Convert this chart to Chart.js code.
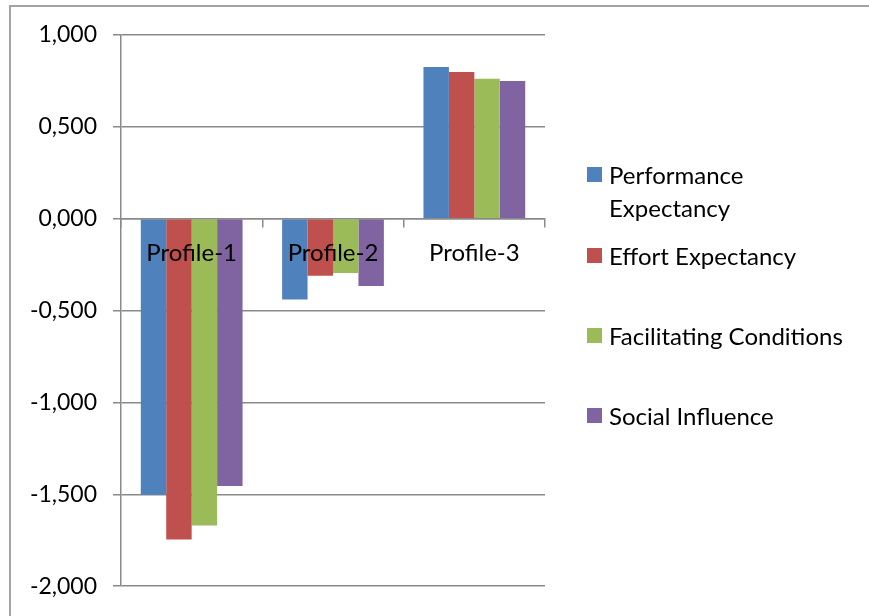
<!DOCTYPE html>
<html>
<head>
<meta charset="utf-8">
<script src="https://cdn.jsdelivr.net/npm/chart.js@4"></script>
<style>
  html, body { margin: 0; padding: 0; background: #fff; }
  #wrap { position: relative; width: 869px; height: 616px; overflow: hidden; }
  #frame { position: absolute; left: 9px; top: 5px; width: 900px; height: 700px;
           border-left: 2px solid #a3a3a3; border-top: 2px solid #a3a3a3; box-sizing: border-box; }
  canvas { position: absolute; left: 0; top: 0; }
  #legend { position: absolute; left: 0; top: 0; font-family: Lato, sans-serif; font-size: 24px; color: #000; }
  .item { position: absolute; left: 587px; display: flex; align-items: flex-start; }
  .box { width: 15px; height: 15px; margin-top: 9px; margin-right: 7px; flex: none; }
  .txt { line-height: 33px; width: 248px; }
</style>
</head>
<body>
<div id="wrap">
  <div id="frame"></div>
  <canvas id="chart" width="869" height="616"></canvas>
  <div id="legend"></div>
</div>
<script>
// categories and series
const profiles = ['Profile-1', 'Profile-2', 'Profile-3'];
const seriesNames = ['Performance Expectancy', 'Effort Expectancy', 'Facilitating Conditions', 'Social Influence'];
const performanceExpectancy = [-1.502, -0.440, 0.826];
const effortExpectancy = [-1.746, -0.310, 0.799];
const facilitatingConditions = [-1.670, -0.295, 0.762];
const socialInfluence = [-1.455, -0.366, 0.750];
const seriesColors = ['#4F81BD', '#C0504D', '#9BBB59', '#8064A2'];

const gridGray = '#8a8a8a';
const allValues = [performanceExpectancy, effortExpectancy, facilitatingConditions, socialInfluence];

const datasets = allValues.map((vals, i) => ({
  label: seriesNames[i],
  data: vals,
  backgroundColor: seriesColors[i],
  borderWidth: 0,
  categoryPercentage: 0.72,
  barPercentage: 1.0,
}));

//format y tick like "0,500"
const fmt = (v) => v.toFixed(3).replace('.', ',');

const ctx = document.getElementById('chart').getContext('2d');
new Chart(ctx, {
  type: 'bar',
  data: { labels: profiles, datasets: datasets },
  options: {
    responsive: false,
    animation: false,
    // bottom space comes from the y tick label padding
    layout: { padding: { left: 0, right: 324, top: 35, bottom: 0 } },
    plugins: { legend: { display: false }, tooltip: { enabled: false } },
    scales: {
      x: {
        position: { y: 0 },
        grid: { drawOnChartArea: false, drawTicks: true, tickLength: 8, color: gridGray, lineWidth: 1.5, offset: true },
        border: { display: true, color: gridGray, width: 1.5 },
        // z:1 -> labels drawn over the bars, like the original
        ticks: { z: 1, color: '#000', padding: 12, font: { family: 'Lato', size: 24 } },
      },
      y: {
        min: -2,
        max: 1,
        afterFit: (scale) => { scale.width = 121; },
        grid: { color: gridGray, lineWidth: 1.5, tickLength: 8 },
        border: { display: true, color: gridGray, width: 1.5 },
        ticks: {
          stepSize: 0.5,
          color: '#000',
          padding: 16,
          font: { family: 'Lato', size: 23 },
          callback: (v) => fmt(v),
        },
      },
    },
  },
});

//html legend on the right
const legendCenters = [174, 255, 335, 415];
const legend = document.getElementById('legend');
seriesNames.forEach((name, i) => {
  const item = document.createElement('div');
  item.className = 'item';
  item.style.top = (legendCenters[i] - 16.5) + 'px';
  item.innerHTML = '<div class="box" style="background:' + seriesColors[i] + '"></div><div class="txt">' + name + '</div>';
  legend.appendChild(item);
});
</script>
</body>
</html>
